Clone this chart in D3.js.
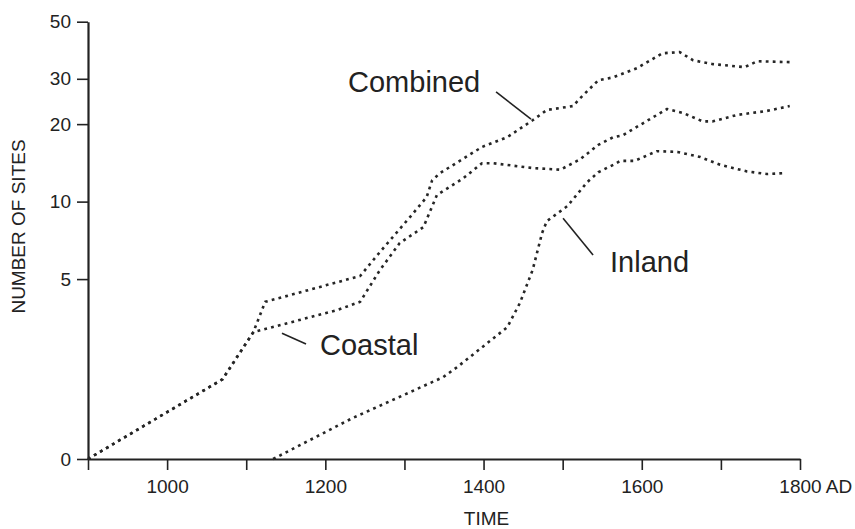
<!DOCTYPE html>
<html>
<head>
<meta charset="utf-8">
<script src="https://cdn.jsdelivr.net/npm/d3@7"></script>
<style>
  html, body { margin: 0; padding: 0; background: #fff; }
  svg { display: block; }
  text { font-family: "Liberation Sans", Arial, Helvetica, sans-serif; fill: #222; }
</style>
</head>
<body>
<svg id="chart" width="855" height="529"></svg>
<script>
// Site counts through time (log scale; the bottom tick "0" sits at one site)
const combinedYears = [900, 1070, 1109, 1124, 1244, 1269, 1307, 1328, 1335, 1345, 1398, 1430, 1462, 1480, 1513, 1522, 1545, 1564, 1594, 1626, 1648, 1665, 1690, 1730, 1746, 1791];
const combinedSites = [1, 2.04, 3.11, 4.08, 5.14, 6.37, 8.71, 10.4, 12.1, 12.9, 16.3, 17.8, 20.7, 22.7, 23.5, 25.2, 29.6, 30.4, 33.0, 37.7, 38.1, 35.4, 34.2, 33.3, 35.1, 34.8];

const coastalYears = [900, 1070, 1109, 1215, 1244, 1269, 1294, 1324, 1341, 1374, 1398, 1412, 1462, 1497, 1522, 1545, 1564, 1576, 1602, 1632, 1652, 1677, 1690, 1720, 1758, 1787];
const coastalSites = [1, 2.04, 3.11, 3.79, 4.08, 5.42, 6.90, 7.96, 10.6, 12.3, 14.1, 14.1, 13.5, 13.3, 14.6, 16.6, 17.8, 18.1, 20.2, 22.9, 22.1, 20.5, 20.5, 21.7, 22.5, 23.5];

const inlandYears = [1134, 1234, 1349, 1367, 1430, 1446, 1462, 1474, 1480, 1506, 1531, 1545, 1564, 1573, 1591, 1619, 1645, 1674, 1699, 1733, 1758, 1781];
const inlandSites = [1, 1.44, 2.08, 2.28, 3.25, 4.04, 5.42, 7.55, 8.40, 9.61, 11.9, 13.0, 13.9, 14.4, 14.4, 15.7, 15.6, 14.9, 13.9, 13.1, 12.8, 12.9];

const xTickYears = [900, 1000, 1100, 1200, 1300, 1400, 1500, 1600, 1700, 1800];
const xLabelYears = [1000, 1200, 1400, 1600, 1800];
const yTickValues = [1, 5, 10, 20, 30, 50];
const yTickLabels = ["0", "5", "10", "20", "30", "50"];

const seriesNames = ["Combined", "Coastal", "Inland"];

const svg = d3.select("#chart");

const x = d3.scaleLinear().domain([900, 1800]).range([88, 800]);
const y = d3.scaleLog().domain([1, 50]).range([459, 21.7]);

const ink = "#222";

// Axes
const xAxis = d3.axisBottom(x)
  .tickValues(xTickYears)
  .tickSize(11)
  .tickSizeOuter(0)
  .tickPadding(10)
  .tickFormat(d => xLabelYears.includes(d) ? String(d) : "");

const yAxis = d3.axisLeft(y)
  .tickValues(yTickValues)
  .tickSize(11)
  .tickSizeOuter(0)
  .tickPadding(6)
  .tickFormat((d, i) => yTickLabels[i]);

const gx = svg.append("g").attr("transform", "translate(0,459)").call(xAxis);
const gy = svg.append("g").attr("transform", "translate(88,0)").call(yAxis);

[gx, gy].forEach(g => {
  g.select(".domain").attr("stroke", ink).attr("stroke-width", 2.2);
  g.selectAll(".tick line").attr("stroke", ink).attr("stroke-width", 1.6);
  g.selectAll(".tick text")
    .attr("font-size", 19)
    .attr("font-family", "\"Liberation Sans\", Arial, sans-serif")
    .attr("fill", ink);
});

// Last label reads "1800 AD", with the number centred on its tick
const lastLabel = gx.selectAll(".tick text").filter(d => d === 1800);
const numWidth = lastLabel.node().getComputedTextLength();
lastLabel.text("1800 AD").attr("text-anchor", "start").attr("x", -numWidth / 2);

// Axis titles
svg.append("text")
  .attr("transform", "translate(24.5,226.5) rotate(-90)")
  .attr("text-anchor", "middle")
  .attr("font-size", 19)
  .text("NUMBER OF SITES");

svg.append("text")
  .attr("x", 486.5)
  .attr("y", 525)
  .attr("text-anchor", "middle")
  .attr("font-size", 19)
  .text("TIME");

// Dotted series lines
const line = d3.line()
  .x(d => x(d[0]))
  .y(d => y(d[1]));

const series = [
  d3.zip(combinedYears, combinedSites),
  d3.zip(coastalYears, coastalSites),
  d3.zip(inlandYears, inlandSites)
];

svg.append("g")
  .selectAll("path")
  .data(series)
  .join("path")
  .attr("d", line)
  .attr("fill", "none")
  .attr("stroke", "#262626")
  .attr("stroke-width", 2.6)
  .attr("stroke-linejoin", "round")
  .attr("stroke-dasharray", "2.8 4.2");

// Series labels with leader lines (in data coordinates)
const notes = [
  { text: seriesNames[0], tx: 1228.7, ty: 26.7, from: [1415.8, 26.7], to: [1460, 20.9] },
  { text: seriesNames[1], tx: 1193.3, ty: 2.53, from: [1145.2, 3.08], to: [1175.6, 2.80] },
  { text: seriesNames[2], tx: 1559.9, ty: 5.32, from: [1500.5, 8.61], to: [1538.4, 6.20] }
];

const ng = svg.append("g");
ng.selectAll("line")
  .data(notes)
  .join("line")
  .attr("x1", d => x(d.from[0]))
  .attr("y1", d => y(d.from[1]))
  .attr("x2", d => x(d.to[0]))
  .attr("y2", d => y(d.to[1]))
  .attr("stroke", ink)
  .attr("stroke-width", 1.6);

ng.selectAll("text")
  .data(notes)
  .join("text")
  .attr("x", d => x(d.tx))
  .attr("y", d => y(d.ty))
  .attr("font-size", 29)
  .text(d => d.text);
</script>
</body>
</html>
